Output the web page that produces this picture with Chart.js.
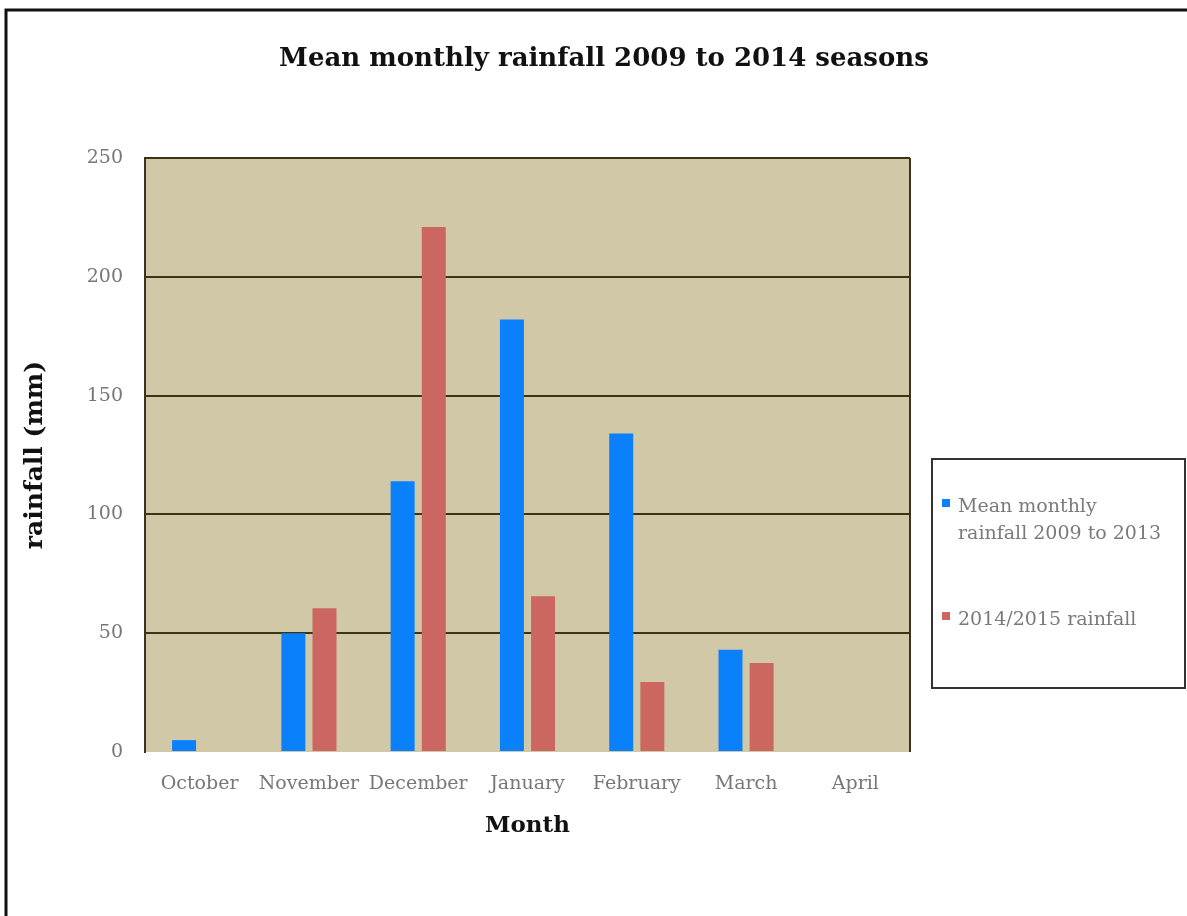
<!DOCTYPE html>
<html>
<head>
<meta charset="utf-8">
<title>Mean monthly rainfall 2009 to 2014 seasons</title>
<script src="https://cdn.jsdelivr.net/npm/chart.js@4"></script>
<style>
  html, body { margin: 0; padding: 0; background: #fff; }
  #wrap { width: 1187px; height: 916px; position: relative; }
</style>
</head>
<body>
<div id="wrap"><canvas id="canv" width="1187" height="916"></canvas></div>
<script>
var months = ["October", "November", "December", "January", "February", "March", "April"];
var meanRain = [5, 50, 114, 182, 134, 43, 0];
var season1415 = [0, 60.5, 221, 65.5, 29.5, 37.5, 0];
var yTicks = [0, 50, 100, 150, 200, 250];
var legendLines = [["Mean monthly", "rainfall 2009 to 2013"], ["2014/2015 rainfall"]];

var serif = "'DejaVu Serif', 'Liberation Serif', serif";

// background, outer frame, title and boxed legend
var decor = {
  id: "decor",
  beforeDraw: function(chart) {
    var ctx = chart.ctx, a = chart.chartArea;
    ctx.save();
    ctx.fillStyle = "#fff";
    ctx.fillRect(0, 0, chart.width, chart.height);
    ctx.fillStyle = "#D0C8A7";
    ctx.fillRect(a.left, a.top, a.right - a.left, a.bottom - a.top);
    ctx.strokeStyle = "#111";
    ctx.lineWidth = 3;
    ctx.beginPath();
    ctx.moveTo(6, chart.height);
    ctx.lineTo(6, 10);
    ctx.lineTo(chart.width, 10);
    ctx.stroke();
    ctx.restore();
  },
  afterDraw: function(chart) {
    var ctx = chart.ctx, a = chart.chartArea;
    ctx.save();
    // right edge of plot
    ctx.strokeStyle = "#3A3418";
    ctx.lineWidth = 2;
    ctx.beginPath();
    ctx.moveTo(a.right, a.top);
    ctx.lineTo(a.right, a.bottom);
    ctx.stroke();

    // title
    ctx.fillStyle = "#111";
    ctx.font = "bold 26px " + serif;
    ctx.textAlign = "center";
    ctx.textBaseline = "middle";
    ctx.fillText("Mean monthly rainfall 2009 to 2014 seasons", 604, 59);

    // legend box
    var bx = 932, by = 459, bw = 253, bh = 229;
    ctx.strokeStyle = "#333";
    ctx.lineWidth = 2;
    ctx.strokeRect(bx, by, bw, bh);
    ctx.font = "19px " + serif;
    ctx.textAlign = "left";
    ctx.textBaseline = "middle";
    var rows = [507, 620];
    chart.data.datasets.forEach(function(ds, i) {
      ctx.fillStyle = ds.backgroundColor;
      ctx.fillRect(bx + 10, rows[i] - 8, 8, 8);
      ctx.fillStyle = "#7a7a7a";
      legendLines[i].forEach(function(line, j) {
        ctx.fillText(line, bx + 26, rows[i] + j * 27);
      });
    });
    ctx.restore();
  }
};

new Chart(document.getElementById("canv"), {
  type: "bar",
  data: {
    labels: months,
    datasets: [
      { label: "Mean monthly rainfall 2009 to 2013", data: meanRain, backgroundColor: "#0A80FA",
        categoryPercentage: 0.57, barPercentage: 0.77 },
      { label: "2014/2015 rainfall", data: season1415, backgroundColor: "#CC6660",
        categoryPercentage: 0.57, barPercentage: 0.77 }
    ]
  },
  options: {
    responsive: false,
    animation: false,
    layout: { padding: { left: 20, top: 158, right: 277, bottom: 74 } },
    plugins: {
      legend: { display: false },
      title: { display: false },
      tooltip: { enabled: false }
    },
    scales: {
      x: {
        grid: { display: false, drawTicks: false },
        border: { display: false },
        ticks: { color: "#777", font: { family: serif, size: 19 }, padding: 21, maxRotation: 0, autoSkip: false },
        title: { display: true, text: "Month", color: "#111", font: { family: serif, size: 23, weight: "bold" }, padding: { top: 0, bottom: 2 } },
        afterFit: function(s) { s.height = 90; }
      },
      y: {
        min: 0, max: 250,
        afterBuildTicks: function(s) { s.ticks = yTicks.map(function(v) { return { value: v }; }); },
        grid: {
          drawTicks: false,
          lineWidth: 2,
          color: function(c) { return c.tick && c.tick.value === 0 ? "rgba(0,0,0,0)" : "#3A3418"; }
        },
        border: { display: true, color: "#3A3418", width: 2 },
        ticks: { color: "#777", font: { family: serif, size: 19 }, padding: 22 },
        title: { display: true, text: "rainfall (mm)", color: "#111", font: { family: serif, size: 25, weight: "bold" }, padding: { top: 0, bottom: 0 } },
        afterFit: function(s) { s.width = 125; }
      }
    }
  },
  plugins: [decor]
});
</script>
</body>
</html>
